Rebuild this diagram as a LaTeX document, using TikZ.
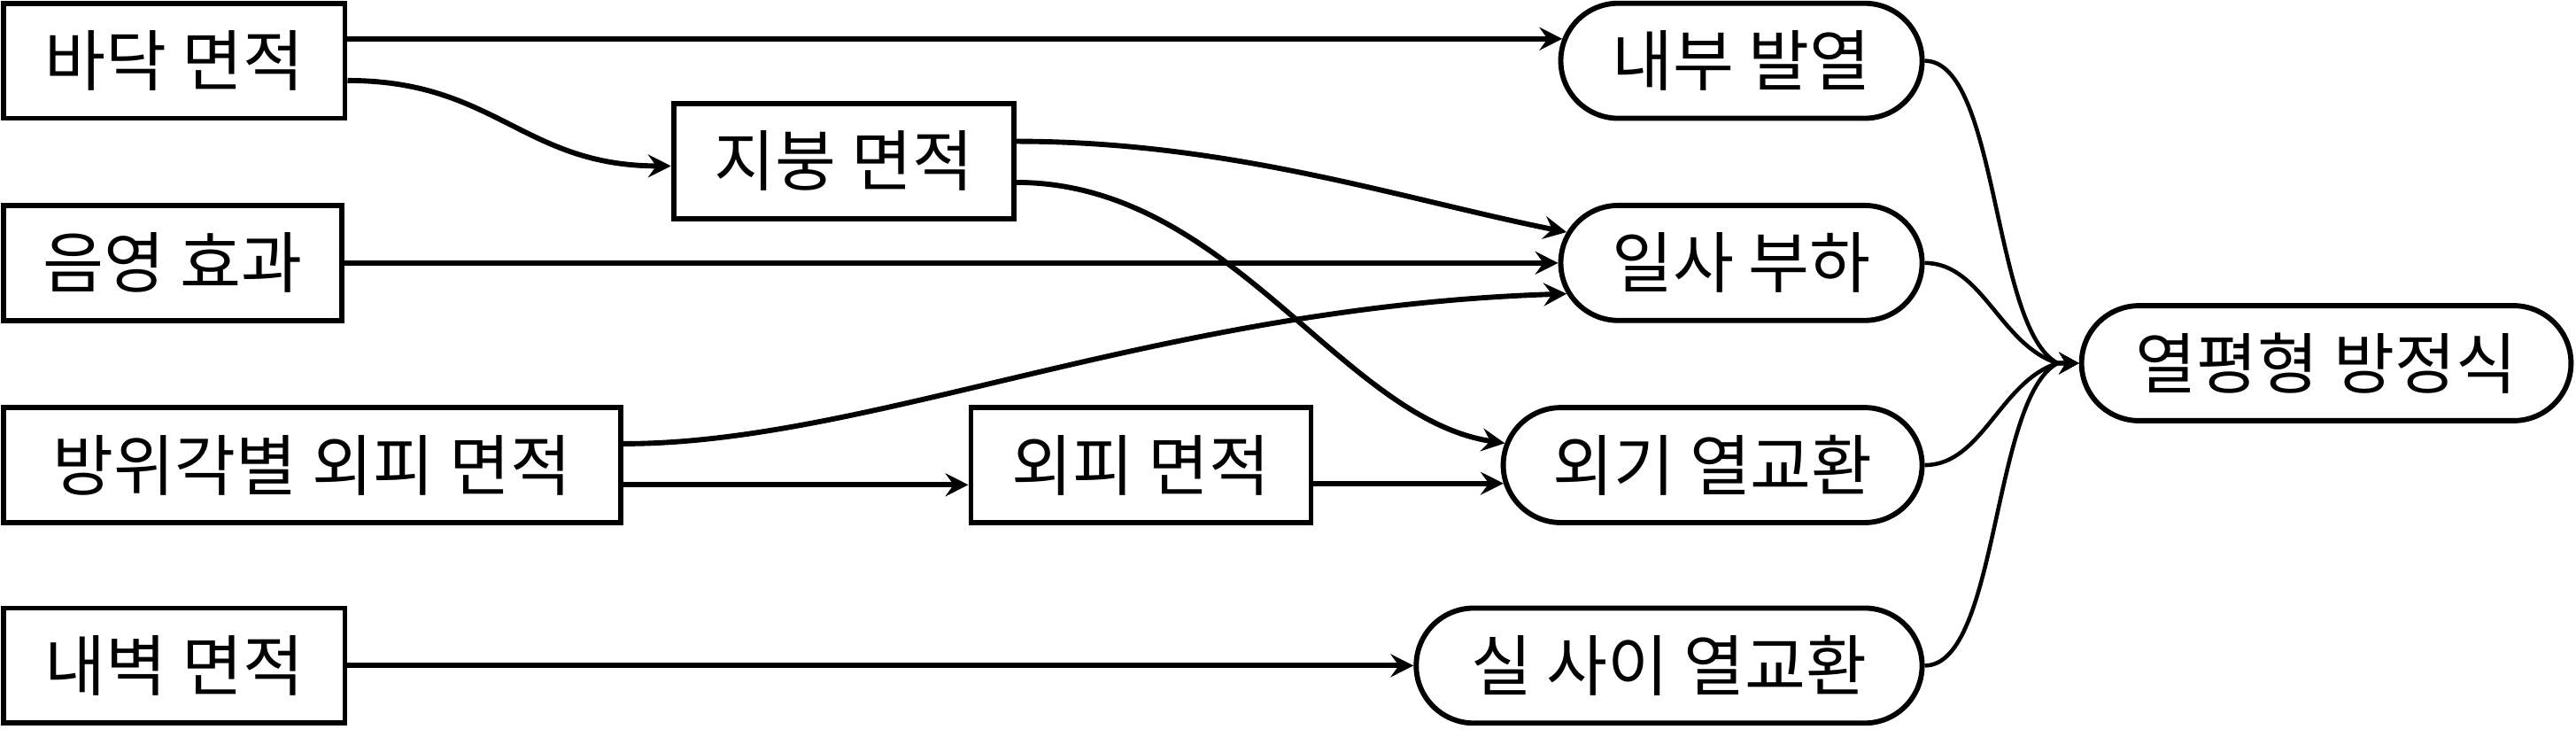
\documentclass[tikz,border=0pt]{standalone}
\usepackage{fontspec}
\setmainfont{Noto Sans CJK KR}
\usetikzlibrary{arrows.meta,shapes.misc}

\begin{document}
\begin{tikzpicture}[x=0.02cm,y=0.02cm,
  box/.style={draw,line width=1.8pt,minimum height=1.4cm,inner sep=0pt,
    font=\fontsize{23}{26}\selectfont},
  pill/.style={box,rounded rectangle},
  flow/.style={line width=1.8pt,-{Stealth[length=0.28cm,width=0.28cm,inset=0.1cm]}},
  tosum/.style={line width=1.4pt,-{Stealth[length=0.24cm,width=0.26cm,inset=0.08cm]}}]
\useasboundingbox (0,0) rectangle (1568,-453);
\node[box,minimum width=4.16cm] (bd) at (106,-37) {바닥 면적};
\node[box,minimum width=4.12cm] (ey) at (105,-160) {음영 효과};
\node[box,minimum width=7.52cm] (bw) at (190,-283) {방위각별 외피 면적};
\node[box,minimum width=4.16cm] (nw) at (106,-405) {내벽 면적};
\node[box,minimum width=4.14cm] (jb) at (513.5,-98) {지붕 면적};
\node[box,minimum width=4.14cm] (wp) at (694.5,-283) {외피 면적};
\node[pill,minimum width=4.4cm] (nb) at (1060,-37) {내부 발열};
\node[pill,minimum width=4.4cm] (is) at (1060,-160) {일사 부하};
\node[pill,minimum width=5.1cm] (og) at (1042.5,-283) {외기 열교환};
\node[pill,minimum width=6.16cm] (ss) at (1016,-405) {실 사이 열교환};
\node[pill,minimum width=5.96cm] (yp) at (1416,-221) {열평형 방정식};
\draw[flow] (bd.east |- nb.173) -- (nb.173);
\draw[flow] ([yshift=-0.24cm]bd.east) .. controls +(90,0) and +(-90,0) .. ([yshift=-0.06cm]jb.west);
\draw[flow] ([yshift=0.24cm]jb.east) .. controls +(130,0) and +(-100,20) .. (is.170);
\draw[flow] ([yshift=-0.26cm]jb.east) .. controls +(130,0) and +(-100,15) .. (og.174);
\draw[flow] (ey.east) -- (is.west);
\draw[flow] ([yshift=0.26cm]bw.east) .. controls +(150,0) and +(-250,-8) .. (is.190);
\draw[flow] ([yshift=-0.24cm]bw.east) -- ([yshift=-0.24cm]wp.west);
\draw[flow] (wp.east |- og.185) -- (og.185);
\draw[flow] (nw.east) -- (ss.west);
\draw[tosum] (nb.east) .. controls +(45,0) and +(-40,21) .. ([xshift=-0.26cm]yp.west) -- (yp.west);
\draw[tosum] (is.east) .. controls +(35,0) and +(-35,11) .. ([xshift=-0.26cm]yp.west) -- (yp.west);
\draw[tosum] (og.east) .. controls +(35,0) and +(-35,-11) .. ([xshift=-0.26cm]yp.west) -- (yp.west);
\draw[tosum] (ss.east) .. controls +(45,0) and +(-40,-21) .. ([xshift=-0.26cm]yp.west) -- (yp.west);
\end{tikzpicture}
\end{document}
